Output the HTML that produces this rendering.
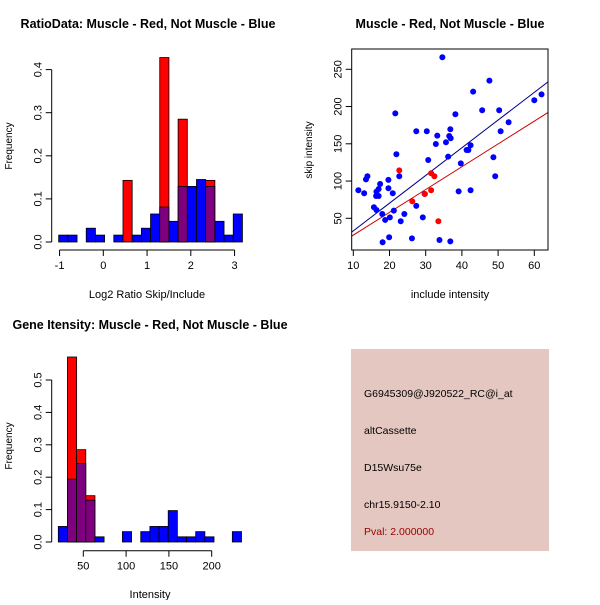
<!DOCTYPE html>
<html><head><meta charset="utf-8"><style>
body{margin:0;background:#fff;width:600px;height:600px;overflow:hidden}
svg{font-family:"Liberation Sans",sans-serif}
</style></head><body>
<svg id="s" width="600" height="600"></svg>
<script>
// ---- Histogram 1 data (Log2 ratio) ----
const ratioBreakStart = -1.02;
const ratioBinWidth = 0.21;
const ratioBlue = [0.016,0.016,0,0.032,0.016,0,0.016,0,0.016,0.032,0.065,0.081,0.048,0.129,0.129,0.145,0.129,0.048,0.016,0.065];
const ratioRed  = [0,0,0,0,0,0,0,0.143,0,0,0,0.428,0,0.285,0,0,0.143,0,0,0];
const ratioXTicks = [-1,0,1,2,3];
const ratioYTicks = [0,0.1,0.2,0.3,0.4];
// ---- Scatter data ----
const blueX = [11.4,13.0,13.5,13.9,15.7,16.3,16.4,17.0,17.4,17.0,16.4,18.0,18.8,18.1,19.7,19.7,20.1,19.9,20.9,21.2,21.6,21.9,22.7,23.1,24.1,26.2,27.4,27.4,29.2,29.7,30.3,30.7,32.8,33.2,34.6,35.6,36.2,36.5,36.8,36.9,38.2,39.1,39.7,41.3,41.8,42.4,42.4,43.1,45.6,47.6,48.7,49.2,50.3,50.7,52.9,60.0,62.0,33.8,36.8];
const blueY = [87.6,83.6,102.3,106.4,64.8,80.0,85.8,89.4,96.1,80.0,61.2,55.8,47.8,17.8,90.3,101.5,51.3,24.5,83.6,60.3,190.9,135.9,106.4,46.0,55.8,23.0,166.8,66.6,51.3,82.7,166.8,128.3,149.8,161.0,266.1,152.0,132.8,160.5,169.5,157.4,189.6,86.2,123.8,141.7,141.7,148.0,87.6,220.0,195.0,234.8,131.9,106.4,195.0,166.8,178.9,208.4,216.4,20.9,19.1];
const redX = [22.7,26.3,31.5,32.4,31.5,33.5,29.8];
const redY = [114.4,72.8,110.4,106.4,87.6,46.0,82.7];
const blueFit = [-4.1,3.72];
const redFit = [-3.2,3.06];
const scatXTicks = [10,20,30,40,50,60];
const scatYTicks = [50,100,150,200,250];
// ---- Histogram 2 data (Intensity) ----
const intBreakStart = 20.8;
const intBinWidth = 10.7;
const intBlue = [0.048,0.194,0.242,0.129,0.016,0,0,0.032,0,0.032,0.048,0.048,0.097,0.016,0.016,0.032,0.016,0,0,0.032];
const intRed  = [0,0.571,0.285,0.143,0,0,0,0,0,0,0,0,0,0,0,0,0,0,0,0];
const intXTicks = [50,100,150,200];
const intYTicks = [0,0.1,0.2,0.3,0.4,0.5];

const svg=document.getElementById('s');
const NS='http://www.w3.org/2000/svg';
function mk(tag,at,parent){const e=document.createElementNS(NS,tag);for(const k in at)e.setAttribute(k,at[k]);(parent||svg).appendChild(e);return e;}
function txt(x,y,s,opt,parent){const t=mk('text',Object.assign({x:x,y:y,'font-size':11,'text-anchor':'middle',fill:'#000'},opt||{}),parent);t.textContent=s;return t;}

function hist(cfg){
  const g=mk('g',{});
  
  
  const sx=v=>cfg.x0+(v-cfg.xv0)*cfg.kx, sy=v=>cfg.y0-v*cfg.ky;
  for(let i=0;i<cfg.blue.length;i++){
    const l=cfg.start+i*cfg.w, r=l+cfg.w, b=cfg.blue[i], rd=cfg.red[i];
    const hi=Math.max(b,rd), lo=Math.min(b,rd);
    if(hi<=0)continue;
    const col = rd>b ? '#ff0000' : '#0000ff';
    const big=mk('rect',{x:sx(l),y:sy(hi),width:sx(r)-sx(l),height:sy(0)-sy(hi),fill:col,stroke:'#000','stroke-width':0.8},g);
    
    
    if(lo>0){
      const p=mk('rect',{x:sx(l),y:sy(lo),width:sx(r)-sx(l),height:sy(0)-sy(lo),fill:'#7f007f',stroke:'#000','stroke-width':0.8},g);
      
      
    }
  }
  const xt=cfg.xticks, ay=cfg.axisY;
  mk('line',{x1:sx(xt[0]),x2:sx(xt[xt.length-1]),y1:ay,y2:ay,stroke:'#000'},g);
  xt.forEach(v=>{mk('line',{x1:sx(v),x2:sx(v),y1:ay,y2:ay+6,stroke:'#000'},g);txt(sx(v),ay+19,String(v),{},g);});
  const yt=cfg.yticks, ax=cfg.axisX;
  mk('line',{x1:ax,x2:ax,y1:sy(yt[0]),y2:sy(yt[yt.length-1]),stroke:'#000'},g);
  yt.forEach(v=>{mk('line',{x1:ax,x2:ax-6,y1:sy(v),y2:sy(v),stroke:'#000'},g);
    txt(ax-10,sy(v),v.toFixed(1),{transform:`rotate(-90 ${ax-10} ${sy(v)})`},g);});
  const t=txt(cfg.tx,cfg.ty,cfg.title,{'font-weight':'bold','font-size':12.5},g);
  
  const xl=txt(cfg.xlx,cfg.xly,cfg.xlab,{},g);
  
  const yl=txt(12,cfg.yly,'Frequency',{transform:`rotate(-90 12 ${cfg.yly})`,'font-size':10},g);
  
}

hist({name:'ratio-histogram',x0:103.3,xv0:0,kx:43.75,y0:242,ky:431,start:ratioBreakStart,w:ratioBinWidth,blue:ratioBlue,red:ratioRed,
  xticks:ratioXTicks,yticks:ratioYTicks,axisY:250,axisX:51.7,title:'RatioData: Muscle - Red, Not Muscle - Blue',tx:148,ty:28,
  xlab:'Log2 Ratio Skip/Include',xlx:147,xly:298,yly:146});
hist({name:'intensity-histogram',x0:83.3,xv0:50,kx:0.856,y0:542,ky:324,start:intBreakStart,w:intBinWidth,blue:intBlue,red:intRed,
  xticks:intXTicks,yticks:intYTicks,axisY:550.7,axisX:51.7,title:'Gene Itensity: Muscle - Red, Not Muscle - Blue',tx:150,ty:329,
  xlab:'Intensity',xlx:150,xly:598,yly:446});

(function(){
  const g=mk('g',{});
  
  
  const L=351.7,R=548,T=49,B=250;
  const sx=v=>353.3+(v-10)*3.62, sy=v=>218.3-(v-50)*0.745;
  const cp=mk('clipPath',{id:'cp'},g);mk('rect',{x:L,y:T,width:R-L,height:B-T},cp);
  const pg=mk('g',{'clip-path':'url(#cp)'},g);
  [[blueFit,'#00008b','blue-fit-line'],[redFit,'#cc0000','red-fit-line']].forEach(([f,c,n])=>{
    const xa=9,xb=66;
    const l=mk('line',{x1:sx(xa),y1:sy(f[0]+f[1]*xa),x2:sx(xb),y2:sy(f[0]+f[1]*xb),stroke:c,'stroke-width':1},pg);
    
  });
  blueX.forEach((x,i)=>{const c=mk('circle',{cx:sx(x),cy:sy(blueY[i]),r:3,fill:'#0000ff'},pg);
    });
  redX.forEach((x,i)=>{const c=mk('circle',{cx:sx(x),cy:sy(redY[i]),r:3,fill:'#ff0000'},pg);
    });
  mk('rect',{x:L,y:T,width:R-L,height:B-T,fill:'none',stroke:'#000'},g);
  scatXTicks.forEach(v=>{mk('line',{x1:sx(v),x2:sx(v),y1:B,y2:B+6,stroke:'#000'},g);txt(sx(v),B+19,String(v),{},g);});
  scatYTicks.forEach(v=>{mk('line',{x1:L,x2:L-6,y1:sy(v),y2:sy(v),stroke:'#000'},g);
    txt(L-10,sy(v),String(v),{transform:`rotate(-90 ${L-10} ${sy(v)})`},g);});
  const t=txt(450,28,'Muscle - Red, Not Muscle - Blue',{'font-weight':'bold','font-size':12.5},g);
  
  const xl=txt(450,298,'include intensity',{},g);
  
  const yl=txt(312,150,'skip intensity',{transform:'rotate(-90 312 150)','font-size':10},g);
  
})();

(function(){
  const g=mk('g',{});
  
  
  mk('rect',{x:351,y:349,width:198,height:202,fill:'#e4c7c0'},g);
  [['G6945309@J920522_RC@i_at',397,'#000'],['altCassette',434,'#000'],['D15Wsu75e',471,'#000'],['chr15.9150-2.10',508,'#000'],['Pval: 2.000000',535,'#990000']].forEach(([s,y,c])=>{
    const t=txt(364,y,s,{'text-anchor':'start',fill:c,'font-size':10.5},g);
    
  });
})();
</script>
</body></html>
